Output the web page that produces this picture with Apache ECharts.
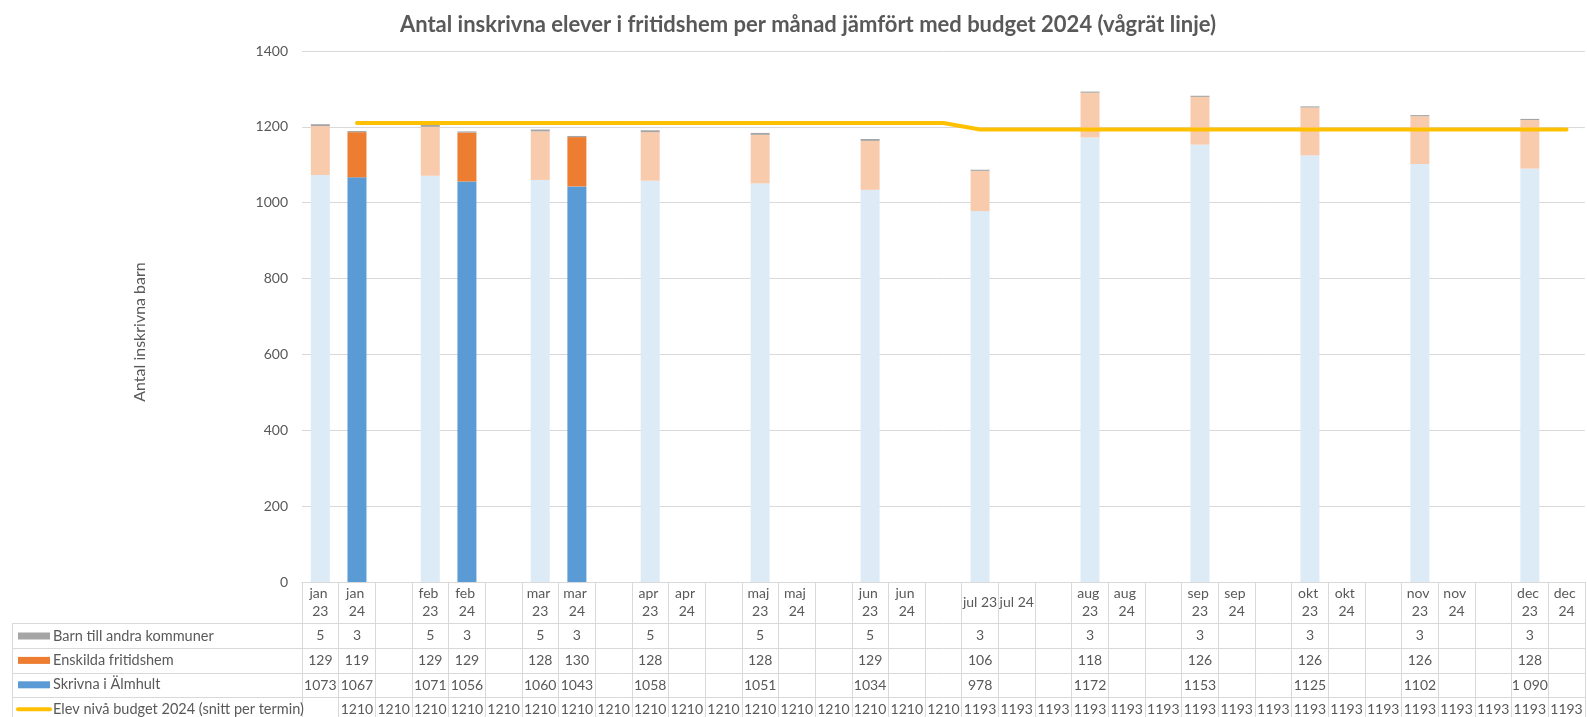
<!DOCTYPE html>
<html>
<head>
<meta charset="utf-8">
<title>Antal inskrivna elever i fritidshem</title>
<script src="https://cdn.jsdelivr.net/npm/echarts@6/dist/echarts.min.js"></script>
<style>
  html, body { margin: 0; padding: 0; background: #ffffff; }
  #chart { width: 1587px; height: 717px; }
</style>
</head>
<body>
<div id="chart"></div>
<script>
// Month columns: each month has a 2023 and a 2024 column followed by a spacer column.
const categories = [
  'jan 23', 'jan 24', '', 'feb 23', 'feb 24', '', 'mar 23', 'mar 24', '',
  'apr 23', 'apr 24', '', 'maj 23', 'maj 24', '', 'jun 23', 'jun 24', '',
  'jul 23', 'jul 24', '', 'aug 23', 'aug 24', '', 'sep 23', 'sep 24', '',
  'okt 23', 'okt 24', '', 'nov 23', 'nov 24', '', 'dec 23', 'dec 24'
];

const barnAndraKommuner = [
  5, 3, null, 5, 3, null, 5, 3, null,
  5, null, null, 5, null, null, 5, null, null,
  3, null, null, 3, null, null, 3, null, null,
  3, null, null, 3, null, null, 3, null
];

const enskildaFritidshem = [
  129, 119, null, 129, 129, null, 128, 130, null,
  128, null, null, 128, null, null, 129, null, null,
  106, null, null, 118, null, null, 126, null, null,
  126, null, null, 126, null, null, 128, null
];

const skrivnaIAlmhult = [
  1073, 1067, null, 1071, 1056, null, 1060, 1043, null,
  1058, null, null, 1051, null, null, 1034, null, null,
  978, null, null, 1172, null, null, 1153, null, null,
  1125, null, null, 1102, null, null, 1090, null
];

const budget2024 = [
  null, 1210, 1210, 1210, 1210, 1210, 1210, 1210, 1210,
  1210, 1210, 1210, 1210, 1210, 1210, 1210, 1210, 1210,
  1193, 1193, 1193, 1193, 1193, 1193, 1193, 1193, 1193,
  1193, 1193, 1193, 1193, 1193, 1193, 1193, 1193
];

// the dec 23 cell of "Skrivna i Älmhult" carries a thousands-separator number format
const groupedCells = { skrivna: [33] };

const yMin = 0, yMax = 1400, yStep = 200;

const seriesNames = {
  barn: 'Barn till andra kommuner',
  enskilda: 'Enskilda fritidshem',
  skrivna: 'Skrivna i Älmhult',
  budget: 'Elev nivå budget 2024 (snitt per termin)'
};

// ---- styling ----
const FONT = 'Lato, "Open Sans", "Noto Sans", sans-serif';
const TEXT = '#595959';
const BORDER = '#d9d9d9';
const colors = {
  skrivna: '#5b9bd5', skrivnaPrev: '#ddebf7',
  enskilda: '#ed7d31', enskildaPrev: '#f8cbad',
  barn: '#a5a5a5', barnPrev: '#a5a5a5',
  budget: '#ffc000'
};

const GRID = { left: 302, right: 2, top: 51, height: 531 };
const gridBottomY = GRID.top + GRID.height;
// data table below the plot: header row then one row per series
const headerHeight = 41;
const rowOffsets = [41, 66, 91, 115];
const rowHeights = [25, 25, 24, 25];

const isPrevYear = i => categories[i].endsWith('23');

function barData(values, prevColor) {
  return values.map((v, i) => {
    if (v == null) return null;
    return isPrevYear(i) ? { value: v, itemStyle: { color: prevColor } } : v;
  });
}

function cellText(values, grouped) {
  return values.map((v, i) => {
    if (v == null) return '';
    return grouped && grouped.includes(i) ? v.toLocaleString('sv-SE') : String(v);
  });
}

const tableRows = [
  cellText(barnAndraKommuner),
  cellText(enskildaFritidshem),
  cellText(skrivnaIAlmhult, groupedCells.skrivna),
  cellText(budget2024)
];

const headerAxis = {
  type: 'category',
  data: categories,
  gridIndex: 0,
  position: 'bottom',
  offset: 0,
  axisLine: { show: true, lineStyle: { color: BORDER, width: 1 } },
  axisTick: { show: true, interval: 0, length: headerHeight, lineStyle: { color: BORDER } },
  axisLabel: {
    interval: 0,
    margin: headerHeight / 2,
    verticalAlign: 'middle',
    color: TEXT,
    fontFamily: FONT,
    fontSize: 14,
    lineHeight: 18,
    width: 35,
    overflow: 'break'
  },
  splitLine: { show: false }
};

const rowAxes = tableRows.map((texts, r) => ({
  type: 'category',
  data: categories,
  gridIndex: 0,
  position: 'bottom',
  offset: rowOffsets[r],
  axisLine: { show: true, lineStyle: { color: BORDER, width: 1 } },
  axisTick: { show: true, interval: 0, length: rowHeights[r], lineStyle: { color: BORDER } },
  axisLabel: {
    interval: 0,
    margin: rowHeights[r] / 2,
    verticalAlign: 'middle',
    color: TEXT,
    fontFamily: FONT,
    fontSize: 14,
    formatter: (value, index) => texts[index]
  },
  splitLine: { show: false }
}));

// left label column of the data table (frame only; labels come from the legend)
const tableLeft = 12;
const frame = [];
rowOffsets.forEach(off => {
  frame.push({
    type: 'line',
    shape: { x1: tableLeft, y1: gridBottomY + off + 0.5, x2: GRID.left, y2: gridBottomY + off + 0.5 },
    style: { stroke: BORDER, lineWidth: 1 }
  });
});
frame.push({
  type: 'line',
  shape: { x1: tableLeft + 0.5, y1: gridBottomY + rowOffsets[0], x2: tableLeft + 0.5, y2: 717 },
  style: { stroke: BORDER, lineWidth: 1 }
});
frame.push({
  type: 'text',
  x: 140, y: 332, rotation: Math.PI / 2,
  style: {
    text: 'Antal inskrivna barn',
    fill: TEXT, font: '16px ' + FONT,
    align: 'center', verticalAlign: 'middle'
  }
});

const chart = echarts.init(document.getElementById('chart'), null, { renderer: 'canvas' });

chart.setOption({
  backgroundColor: '#ffffff',
  animation: false,
  title: {
    text: 'Antal inskrivna elever i fritidshem per månad jämfört med budget 2024 (vågrät linje)',
    left: 803,
    textAlign: 'center',
    top: 9,
    textStyle: { color: TEXT, fontFamily: FONT, fontSize: 22, fontWeight: 'bold' }
  },
  legend: {
    orient: 'vertical',
    left: 16,
    top: 626,
    height: 140,
    padding: 0,
    itemWidth: 32,
    itemHeight: 7,
    itemGap: 4.4,
    selectedMode: false,
    textStyle: { color: TEXT, fontFamily: FONT, fontSize: 14.5, lineHeight: 20, padding: [0, 0, 0, -2] },
    data: [
      { name: seriesNames.barn, icon: 'rect' },
      { name: seriesNames.enskilda, icon: 'rect' },
      { name: seriesNames.skrivna, icon: 'rect' },
      { name: seriesNames.budget, itemStyle: { opacity: 0 }, lineStyle: { width: 4, cap: 'round' } }
    ]
  },
  grid: GRID,
  xAxis: [headerAxis, ...rowAxes],
  yAxis: {
    type: 'value',
    min: yMin,
    max: yMax,
    interval: yStep,
    axisLine: { show: false },
    axisTick: { show: false },
    axisLabel: { color: TEXT, fontFamily: FONT, fontSize: 14, margin: 14, formatter: v => String(v) },
    splitLine: { lineStyle: { color: BORDER, width: 1 } }
  },
  graphic: frame,
  series: [
    {
      name: seriesNames.skrivna,
      type: 'bar',
      stack: 'antal',
      barWidth: 19,
      itemStyle: { color: colors.skrivna },
      data: barData(skrivnaIAlmhult, colors.skrivnaPrev)
    },
    {
      name: seriesNames.enskilda,
      type: 'bar',
      stack: 'antal',
      barWidth: 19,
      itemStyle: { color: colors.enskilda },
      data: barData(enskildaFritidshem, colors.enskildaPrev)
    },
    {
      name: seriesNames.barn,
      type: 'bar',
      stack: 'antal',
      barWidth: 19,
      itemStyle: { color: colors.barn },
      data: barData(barnAndraKommuner, colors.barnPrev)
    },
    {
      name: seriesNames.budget,
      type: 'line',
      symbol: 'none',
      connectNulls: false,
      lineStyle: { color: colors.budget, width: 4, cap: 'round', join: 'round' },
      itemStyle: { color: colors.budget },
      data: budget2024,
      z: 5
    }
  ]
});
</script>
</body>
</html>
